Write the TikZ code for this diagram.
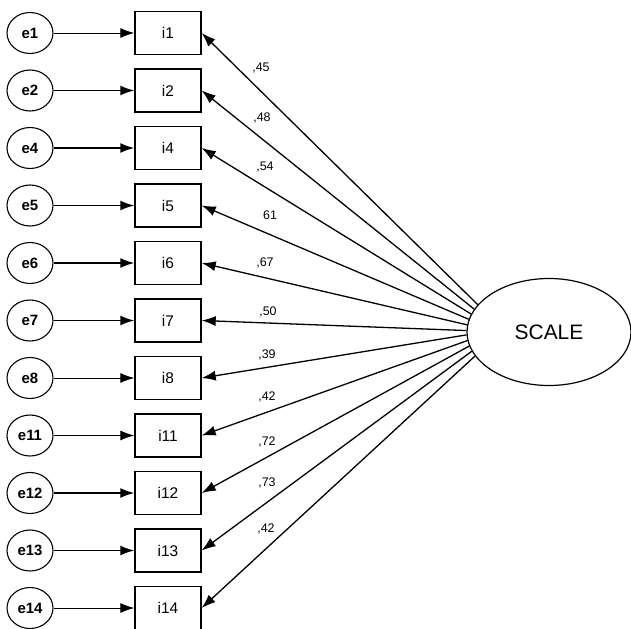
\documentclass[tikz,border=0pt]{standalone}
\usepackage{fontspec}
\setmainfont{Liberation Sans}
\usetikzlibrary{arrows.meta,shapes.geometric}
\begin{document}
\begin{tikzpicture}[x=1bp,y=-1bp,
  errnode/.style={draw,ellipse,line width=1.1bp,minimum width=46bp,minimum height=41bp,inner sep=0pt,font=\fontsize{15}{17}\selectfont\bfseries},
  itembox/.style={draw,rectangle,line width=1.4bp,minimum width=66bp,minimum height=43bp,inner sep=0pt,font=\fontsize{15.5}{18}\selectfont},
  latent/.style={draw,ellipse,line width=1.2bp,minimum width=164bp,minimum height=107bp,inner sep=0pt,font=\fontsize{21}{25}\selectfont},
  tipA/.style={-{Latex[length=14bp,width=10bp]}},
  errarrow/.style={tipA,line width=1.6bp},
  thinarrow/.style={tipA,line width=0.9bp},
  loadarrow/.style={tipA,line width=1.3bp},
  coef/.style={font=\fontsize{12.5}{14}\selectfont,inner sep=0pt}
]
\useasboundingbox (0,0) rectangle (631,629);
\node[latent] (S) at (549,332) {SCALE};
\foreach \k/\e/\i/\lab/\lx/\ly/\st in {
  0/e1/i1/{,45}/261/68/thinarrow,
  1/e2/i2/{,48}/262/118/errarrow,
  2/e4/i4/{,54}/265/167/errarrow,
  3/e5/i5/{61}/270/215/errarrow,
  4/e6/i6/{,67}/265/263/errarrow,
  5/e7/i7/{,50}/268/312/errarrow,
  6/e8/i8/{,39}/267/355/thinarrow,
  7/e11/i11/{,42}/267/397/thinarrow,
  8/e12/i12/{,72}/267/442/errarrow,
  9/e13/i13/{,73}/267/483/errarrow,
  10/e14/i14/{,42}/266/529/thinarrow}
{
  \pgfmathsetmacro{\yy}{33+57.5*\k}
  \pgfmathsetmacro{\ang}{159.4+3.93*\k}
  \node[errnode] (\e) at (30,\yy) {\e};
  \node[itembox] (\i) at (168,\yy) {\i};
  \draw[\st] (\e) -- (\i);
  \draw[loadarrow] (S.\ang) -- (\i.east);
  \node[coef] (c\i) at (\lx,\ly) {\lab};
}
\end{tikzpicture}
\end{document}
